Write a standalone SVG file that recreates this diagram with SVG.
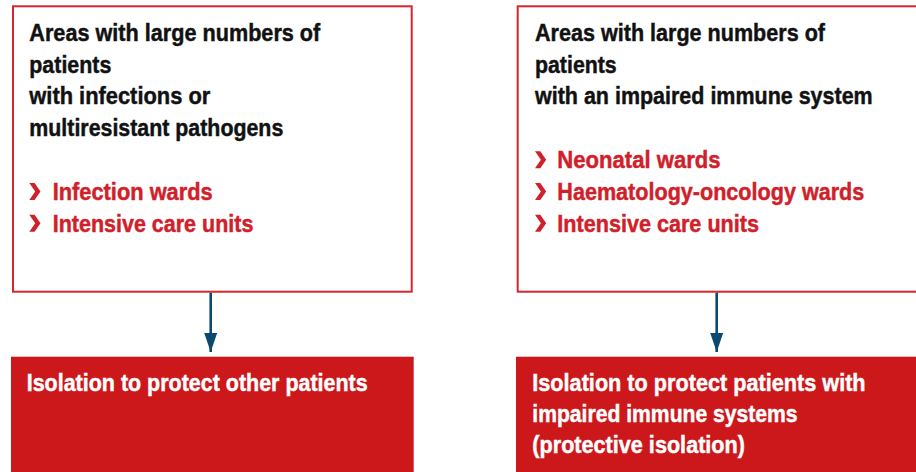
<svg xmlns="http://www.w3.org/2000/svg" width="916" height="472" viewBox="0 0 916 472">
<defs>
<style>
.box{fill:#ffffff;stroke:#d4262c;stroke-width:2}
.fillbox{fill:#cc181b}
.t{font-family:"Liberation Sans Narrow","Liberation Sans","DejaVu Sans Condensed",sans-serif;font-weight:bold;font-size:24.5px;stroke-width:0.45px;paint-order:stroke}
.dark{fill:#111111;stroke:#111111}
.red{fill:#d0202a;stroke:#d0202a}
.white{fill:#ffffff;stroke:#ffffff}
.chev{fill:#d0202a;stroke:none}
.conn{stroke:#0b4a6e;stroke-width:2.6;fill:none}
</style>
<marker id="ah" viewBox="0 0 19 13" refX="19" refY="6.5" markerWidth="19" markerHeight="13" markerUnits="userSpaceOnUse" orient="auto">
<path d="M0,0 L19,6.5 L0,13 Z" fill="#0b4a6e"/>
</marker>
<polygon id="chev" points="0,0 5.3,0 11.2,8.5 5.3,17 0,17 5.9,8.5"/>
</defs>
<rect width="916" height="472" fill="#ffffff"/>

<g id="node-infections">
<rect class="box" x="13" y="6.3" width="398.7" height="285.4"/>
<text class="t dark" x="29.3" y="40.7" textLength="291" lengthAdjust="spacingAndGlyphs">Areas with large numbers of</text>
<text class="t dark" x="29.3" y="72.7" textLength="82" lengthAdjust="spacingAndGlyphs">patients</text>
<text class="t dark" x="29.3" y="104.3" textLength="181" lengthAdjust="spacingAndGlyphs">with infections or</text>
<text class="t dark" x="29.3" y="136.3" textLength="254" lengthAdjust="spacingAndGlyphs">multiresistant pathogens</text>
<use href="#chev" class="chev" x="29.3" y="183"/>
<text class="t red" x="52.7" y="200" textLength="160" lengthAdjust="spacingAndGlyphs">Infection wards</text>
<use href="#chev" class="chev" x="29.3" y="214.7"/>
<text class="t red" x="52.7" y="231.7" textLength="200.7" lengthAdjust="spacingAndGlyphs">Intensive care units</text>
</g>

<g id="node-immune">
<rect class="box" x="517.7" y="6.3" width="410" height="285.4"/>
<text class="t dark" x="535" y="40.7" textLength="290" lengthAdjust="spacingAndGlyphs">Areas with large numbers of</text>
<text class="t dark" x="535" y="72.7" textLength="81.7" lengthAdjust="spacingAndGlyphs">patients</text>
<text class="t dark" x="535" y="104.3" textLength="337.7" lengthAdjust="spacingAndGlyphs">with an impaired immune system</text>
<use href="#chev" class="chev" x="535" y="151.3"/>
<text class="t red" x="557.3" y="168.3" textLength="163.3" lengthAdjust="spacingAndGlyphs">Neonatal wards</text>
<use href="#chev" class="chev" x="535" y="183"/>
<text class="t red" x="557.3" y="200" textLength="307" lengthAdjust="spacingAndGlyphs">Haematology-oncology wards</text>
<use href="#chev" class="chev" x="535" y="214.7"/>
<text class="t red" x="557.3" y="231.7" textLength="201.7" lengthAdjust="spacingAndGlyphs">Intensive care units</text>
</g>

<g id="node-protect-others">
<rect class="fillbox" x="11" y="356.7" width="402.7" height="116"/>
<text class="t white" x="26.7" y="390.7" textLength="341" lengthAdjust="spacingAndGlyphs">Isolation to protect other patients</text>
</g>

<g id="node-protective">
<rect class="fillbox" x="516" y="356.7" width="400" height="116"/>
<text class="t white" x="532.3" y="390.7" textLength="333.3" lengthAdjust="spacingAndGlyphs">Isolation to protect patients with</text>
<text class="t white" x="532.3" y="422.3" textLength="265.3" lengthAdjust="spacingAndGlyphs">impaired immune systems</text>
<text class="t white" x="532.3" y="453.3" textLength="212.7" lengthAdjust="spacingAndGlyphs">(protective isolation)</text>
</g>

<g id="connectors">
<line class="conn" x1="210.7" y1="292.7" x2="210.7" y2="352" marker-end="url(#ah)"/>
<line class="conn" x1="716.7" y1="292.7" x2="716.7" y2="352" marker-end="url(#ah)"/>
</g>
</svg>
